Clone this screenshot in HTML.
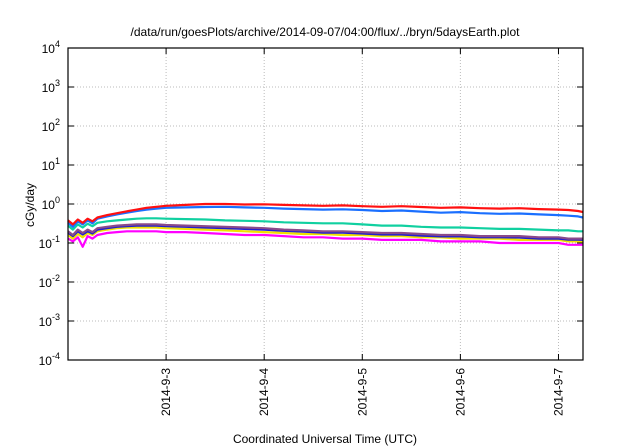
<!DOCTYPE html>
<html><head><meta charset="utf-8"><style>
body{margin:0;background:#fff;}
svg{display:block;font-family:"Liberation Sans",sans-serif;}
</style></head><body>
<svg id="chart" width="640" height="448">
<text x="325" y="36" text-anchor="middle" font-size="12">/data/run/goesPlots/archive/2014-09-07/04:00/flux/../bryn/5daysEarth.plot</text>
<text transform="translate(34,205) rotate(-90)" text-anchor="middle" font-size="12">cGy/day</text>
<text x="325" y="443" text-anchor="middle" font-size="12">Coordinated Universal Time (UTC)</text>
<g id="grid"></g><g id="series"></g><g id="axes"></g>
</svg>
<script>
const times=[0,0.05,0.1,0.15,0.2,0.25,0.3,0.4,0.5,0.6,0.7,0.8,0.9,1.0,1.2,1.4,1.6,1.8,2.0,2.2,2.4,2.6,2.8,3.0,3.2,3.4,3.6,3.8,4.0,4.2,4.4,4.6,4.8,5.0,5.1,5.2,5.25];
const redVals=[.38,.30,.40,.33,.42,.36,.45,.52,.58,.65,.72,.80,.85,.90,.95,1.0,1.0,.97,.98,.95,.92,.90,.92,.88,.85,.88,.84,.80,.82,.78,.76,.78,.74,.72,.70,.66,.62];
const blueVals=[.33,.26,.36,.30,.38,.32,.42,.48,.54,.60,.66,.72,.76,.80,.82,.84,.85,.82,.80,.76,.74,.72,.73,.70,.66,.68,.64,.60,.62,.58,.56,.57,.54,.52,.50,.48,.45];
const tealVals=[.28,.22,.30,.25,.31,.27,.33,.36,.38,.40,.42,.43,.43,.42,.41,.40,.38,.37,.36,.34,.33,.32,.32,.30,.28,.28,.26,.25,.25,.24,.23,.23,.22,.21,.21,.20,.20];
const purpleVals=[.20,.16,.22,.18,.22,.19,.24,.26,.28,.29,.30,.30,.30,.29,.28,.27,.26,.25,.24,.22,.21,.20,.20,.19,.18,.18,.17,.16,.16,.15,.15,.15,.14,.14,.13,.13,.13];
const navyVals=[.185,.15,.20,.165,.20,.175,.22,.24,.26,.27,.28,.28,.28,.27,.26,.25,.24,.23,.22,.205,.195,.185,.185,.175,.165,.165,.155,.148,.148,.14,.14,.138,.13,.13,.122,.122,.12];
const yellowVals=[.16,.13,.17,.14,.18,.16,.20,.22,.24,.25,.25,.25,.25,.24,.23,.22,.21,.20,.19,.18,.17,.17,.16,.16,.15,.15,.14,.14,.13,.13,.13,.12,.12,.12,.11,.11,.11];
const magentaVals=[.13,.11,.14,.08,.15,.13,.16,.18,.19,.20,.20,.20,.20,.19,.19,.18,.17,.16,.16,.15,.14,.14,.13,.13,.12,.12,.12,.11,.11,.11,.10,.10,.10,.10,.09,.09,.09];
const yTickExps=[-4,-3,-2,-1,0,1,2,3,4];
const xTickDays=[1,2,3,4,5];
const xTickLabels=["2014-9-3","2014-9-4","2014-9-5","2014-9-6","2014-9-7"];

const L=68,R=583,T=48,B=360,ns="http://www.w3.org/2000/svg";
const xs=t=>L+(t/5.25)*(R-L);
const ys=v=>B-(Math.log10(v)+4)/8*(B-T);
function mk(tag,attrs,parent){const e=document.createElementNS(ns,tag);for(const k in attrs)e.setAttribute(k,attrs[k]);parent.appendChild(e);return e;}
const grid=document.getElementById('grid'),axes=document.getElementById('axes'),ser=document.getElementById('series');
yTickExps.forEach(e=>{
  const y=ys(Math.pow(10,e));
  if(e>-4&&e<4){const g=mk('line',{x1:L,x2:R,y1:y,y2:y,stroke:'#bbb','stroke-dasharray':'1,2'},grid);
  
  }
  mk('line',{x1:L,x2:L+6,y1:y,y2:y,stroke:'#000'},axes);
  mk('line',{x1:R-6,x2:R,y1:y,y2:y,stroke:'#000'},axes);
  const t=mk('text',{x:L-8,y:y+5,'text-anchor':'end','font-size':'12'},axes);
  
  
  t.appendChild(document.createTextNode('10'));
  const s=mk('tspan',{dy:-6,'font-size':'9'},t);s.textContent=String(e);
});
xTickDays.forEach((d,i)=>{
  const x=xs(d);
  const g=mk('line',{x1:x,x2:x,y1:T,y2:B,stroke:'#bbb','stroke-dasharray':'1,2'},grid);
  
  
  mk('line',{x1:x,x2:x,y1:B-6,y2:B,stroke:'#000'},axes);
  mk('line',{x1:x,x2:x,y1:T,y2:T+6,stroke:'#000'},axes);
  const t=mk('text',{transform:`translate(${x+4},368) rotate(-90)`,'text-anchor':'end','font-size':'12'},axes);
  
  
  t.textContent=xTickLabels[i];
});
const fr=mk('rect',{x:L,y:T,width:R-L,height:B-T,fill:'none',stroke:'#000','stroke-width':1.2},axes);


const series=[[magentaVals,'#ff00ff','magenta'],[yellowVals,'#f0e000','yellow'],[navyVals,'#2020d0','navy'],[purpleVals,'#8a4a8a','purple'],[tealVals,'#10d0a0','teal'],[blueVals,'#1a6fff','blue'],[redVals,'#ff1010','red']];
series.forEach(([vals,col,nm])=>{
  const p=mk('polyline',{points:vals.map((v,i)=>xs(times[i]).toFixed(1)+','+ys(v).toFixed(1)).join(' '),fill:'none',stroke:col,'stroke-width':2.2,'stroke-linejoin':'round'},ser);
  
  
});
</script>
</body></html>
